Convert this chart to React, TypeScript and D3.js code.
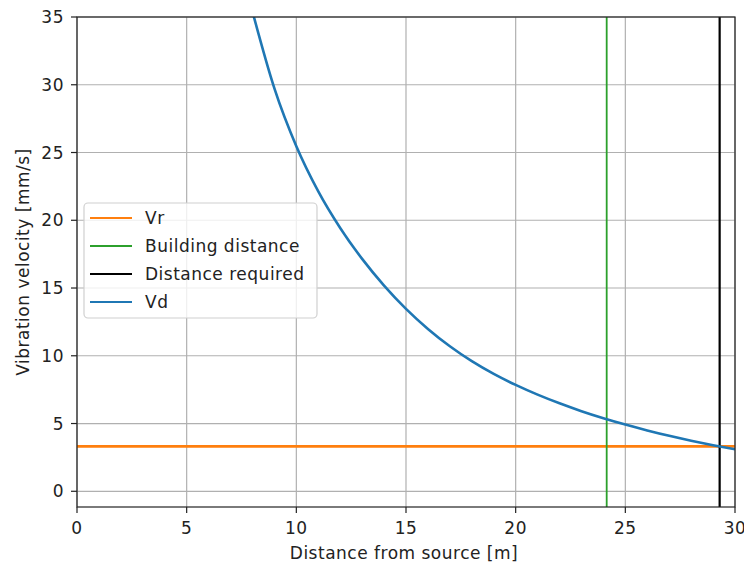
import React from "react";
import * as d3 from "d3";

const xTicks = [0, 5, 10, 15, 20, 25, 30];
const yTicks = [0, 5, 10, 15, 20, 25, 30, 35];
const vdDistance = [8, 9, 10, 11, 12, 13, 14, 15, 16, 17, 18, 19, 20, 21, 22, 23, 24, 25, 26, 27, 28, 29, 30];
const vdVelocity = [35.4, 29.73, 25.46, 22.13, 19.43, 17.15, 15.18, 13.46, 11.98, 10.7, 9.6, 8.66, 7.85, 7.13, 6.49, 5.91, 5.39, 4.92, 4.49, 4.09, 3.73, 3.4, 3.1];
const vrValue = 3.32;
const buildingDistance = 24.15;
const distanceRequired = 29.3;
const legendLabels = ["Vr", "Building distance", "Distance required", "Vd"];
const legendColors = ["#ff7f0e", "#2ca02c", "#000000", "#1f77b4"];

const W = 744, H = 566;
const L = 77, R = 735, T = 17, B = 507;
const FONT = "DejaVu Sans, sans-serif";
const FS = 17;
const LS = 0.5;

export default function App() {
  const x = d3.scaleLinear().domain([0, 30]).range([L, R]);
  const y = d3.scaleLinear().domain([-1.16, 35]).range([B, T]);
  const pts: [number, number][] = vdDistance.map((d, i) => [d, vdVelocity[i]]);
  const line = d3.line<[number, number]>().x(d => x(d[0])).y(d => y(d[1])).curve(d3.curveMonotoneX);
  const lw = 2.2;
  return (
    <svg width={W} height={H} style={{ position: "absolute", left: 0, top: 0, background: "#fff" }} fontFamily={FONT}>
      <defs>
        <clipPath id="clip"><rect x={L} y={T} width={R - L} height={B - T} /></clipPath>
      </defs>
      <rect x={0} y={0} width={W} height={H} fill="#fff" />
      {xTicks.map(t => (
        <line key={"gx" + t} x1={x(t)} x2={x(t)} y1={T} y2={B} stroke="#b0b0b0" strokeWidth={1.2} />
      ))}
      {yTicks.map(t => (
        <line key={"gy" + t} x1={L} x2={R} y1={y(t)} y2={y(t)} stroke="#b0b0b0" strokeWidth={1.2} />
      ))}
      <g clipPath="url(#clip)">
        <line x1={L} x2={R} y1={y(vrValue)} y2={y(vrValue)} stroke={legendColors[0]} strokeWidth={lw + 0.6} />
        <line x1={x(buildingDistance)} x2={x(buildingDistance)} y1={T} y2={B} stroke={legendColors[1]} strokeWidth={lw - 0.4} />
        <line x1={x(distanceRequired)} x2={x(distanceRequired)} y1={T} y2={B} stroke={legendColors[2]} strokeWidth={lw} />
        <path d={line(pts) || ""} fill="none" stroke={legendColors[3]} strokeWidth={lw + 0.4} />
      </g>
      <rect x={L} y={T} width={R - L} height={B - T} fill="none" stroke="#222" strokeWidth={1.2} />
      {xTicks.map(t => (
        <g key={"tx" + t}>
          <line x1={x(t)} x2={x(t)} y1={B} y2={B + 6} stroke="#222" strokeWidth={1.2} />
          <text x={x(t)} y={B + 27} textAnchor="middle" fontSize={FS} letterSpacing={LS} fill="#222">{t}</text>
        </g>
      ))}
      {yTicks.map(t => (
        <g key={"ty" + t}>
          <line x1={L - 6} x2={L} y1={y(t)} y2={y(t)} stroke="#222" strokeWidth={1.2} />
          <text x={L - 13} y={y(t)} dy="0.36em" textAnchor="end" fontSize={FS} letterSpacing={LS} fill="#222">{t}</text>
        </g>
      ))}
      <text x={(L + R) / 2 - 2} y={559} textAnchor="middle" fontSize={FS} letterSpacing={LS} fill="#222">Distance from source [m]</text>
      <text transform={`translate(29,${(T + B) / 2}) rotate(-90)`} textAnchor="middle" fontSize={FS} letterSpacing={LS} fill="#222">Vibration velocity [mm/s]</text>
      <g>
        <rect x={84} y={203} width={233} height={115} rx={4} fill="#fff" fillOpacity={0.8} stroke="#d0d0d0" strokeWidth={1.2} />
        {legendLabels.map((lab, i) => (
          <g key={lab}>
            <line x1={90} x2={132} y1={218 + i * 28} y2={218 + i * 28} stroke={legendColors[i]} strokeWidth={lw} />
            <text x={145} y={218 + i * 28} dy="0.36em" fontSize={FS} letterSpacing={LS} fill="#222">{lab}</text>
          </g>
        ))}
      </g>
    </svg>
  );
}
